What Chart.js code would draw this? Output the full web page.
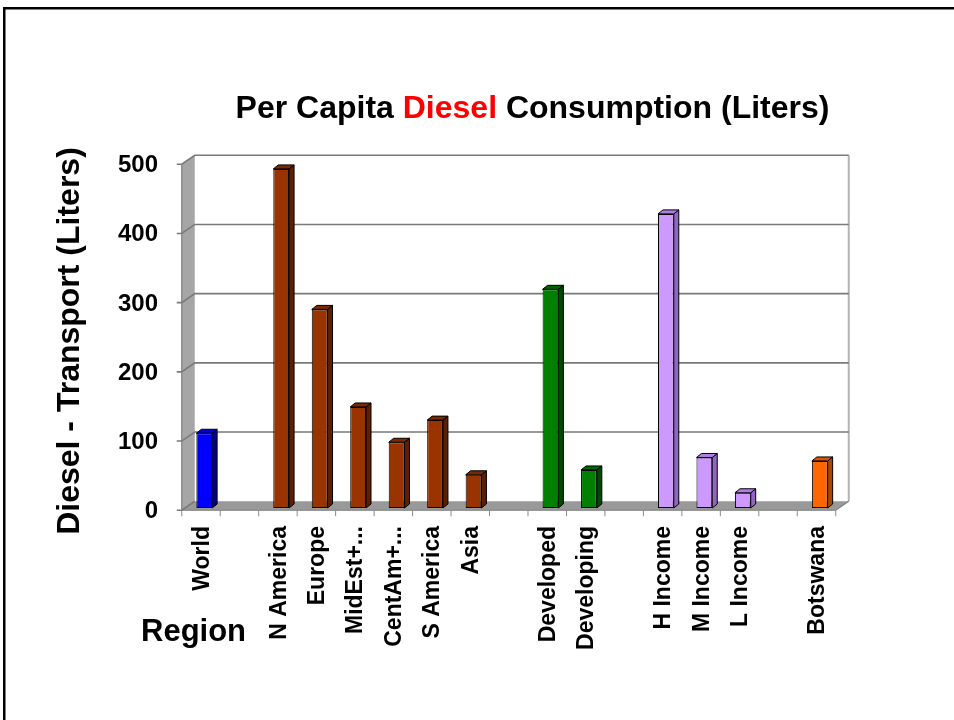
<!DOCTYPE html>
<html>
<head>
<meta charset="utf-8">
<script src="https://cdn.jsdelivr.net/npm/chart.js@4/dist/chart.umd.min.js"></script>
<style>
  html, body { margin: 0; padding: 0; background: #fff; }
  #wrap { width: 954px; height: 720px; position: relative; }
</style>
</head>
<body>
<div id="wrap"><canvas id="c" width="954" height="720"></canvas></div>
<script>
// Per capita diesel (transport) consumption by region, litres
const categories = ['World', '', 'N America', 'Europe', 'MidEst+...', 'CentAm+...', 'S America', 'Asia', '',
                    'Developed', 'Developing', '', 'H Income', 'M Income', 'L Income', '', 'Botswana'];
const dieselLiters = [108, null, 490, 287, 146, 95, 127, 48, null, 316, 55, null, 425, 73, 22, null, 68];
const regionGroup = ['world', '', 'region', 'region', 'region', 'region', 'region', 'region', '',
                     'dev', 'dev', '', 'income', 'income', 'income', '', 'country'];
const yTicks = [0, 100, 200, 300, 400, 500];

const titleParts = [['Per Capita ', '#000000'], ['Diesel', '#ff0000'], [' Consumption (Liters)', '#000000']];
const yTitle = 'Diesel - Transport (Liters)';
const xTitle = 'Region';

// face colours per group: front, side, top
const palette = {
  world:   { front: '#0000ff', side: '#00008c', top: '#0000c8' },
  region:  { front: '#993300', side: '#5e1f00', top: '#7a2900' },
  dev:     { front: '#008000', side: '#004a00', top: '#006400' },
  income:  { front: '#cc99ff', side: '#9066c0', top: '#b07ee6' },
  country: { front: '#ff6600', side: '#b04500', top: '#d85400' }
};

const FONT = '"Liberation Sans", Arial, Helvetica, sans-serif';
Chart.defaults.font.family = FONT;

// depth of the 3D box (full) and where the bars sit inside it
const DEPTH = { dx: 13, dy: -9 };
const BAR_AT = 0.25;
const BAR_DEPTH = { dx: 5, dy: -4 };

function depthPoint(x, y, t) {
  return [x + DEPTH.dx * (t - BAR_AT), y + DEPTH.dy * (t - BAR_AT)];
}

const box3d = {
  id: 'box3d',
  beforeDraw(chart) {
    const ctx = chart.ctx;
    ctx.save();
    // slide frame
    ctx.fillStyle = '#000';
    ctx.fillRect(3, 7, 960, 2.5);
    ctx.fillRect(3, 7, 2.5, 720);
    ctx.restore();
  },
  beforeDatasetsDraw(chart) {
    const ctx = chart.ctx;
    const xs = chart.scales.x, ys = chart.scales.y;
    const L = xs.left, R = xs.right;
    const y0 = ys.getPixelForValue(0), yTop = ys.getPixelForValue(500);
    ctx.save();

    const fl = depthPoint(L, y0, 0), fr = depthPoint(R, y0, 0);
    const bl = depthPoint(L, y0, 1), br = depthPoint(R, y0, 1);
    const ftl = depthPoint(L, yTop, 0), btl = depthPoint(L, yTop, 1), btr = depthPoint(R, yTop, 1);

    // left wall
    ctx.fillStyle = '#a6a6a6';
    ctx.beginPath();
    ctx.moveTo(fl[0], fl[1]); ctx.lineTo(ftl[0], ftl[1]); ctx.lineTo(btl[0], btl[1]); ctx.lineTo(bl[0], bl[1]);
    ctx.closePath(); ctx.fill();
    // floor
    ctx.fillStyle = '#999999';
    ctx.beginPath();
    ctx.moveTo(fl[0], fl[1]); ctx.lineTo(fr[0], fr[1]); ctx.lineTo(br[0], br[1]); ctx.lineTo(bl[0], bl[1]);
    ctx.closePath(); ctx.fill();

    // back wall right edge
    ctx.strokeStyle = '#b4b4b4';
    ctx.lineWidth = 2;
    ctx.beginPath(); ctx.moveTo(btr[0], btr[1]); ctx.lineTo(br[0], br[1]); ctx.stroke();

    // gridlines across back wall and left wall
    ctx.strokeStyle = '#7a7a7a';
    ctx.lineWidth = 1.6;
    yTicks.forEach(v => {
      const yp = ys.getPixelForValue(v);
      const a = depthPoint(L, yp, 0), b = depthPoint(L, yp, 1), c = depthPoint(R, yp, 1);
      ctx.beginPath();
      ctx.moveTo(a[0] - 5, a[1]); ctx.lineTo(a[0], a[1]); ctx.lineTo(b[0], b[1]);
      if (v > 0) ctx.lineTo(c[0], c[1]);
      ctx.stroke();
    });

    // outline of left wall and floor
    ctx.strokeStyle = '#808080';
    ctx.lineWidth = 1.2;
    ctx.beginPath();
    ctx.moveTo(ftl[0], ftl[1]); ctx.lineTo(fl[0], fl[1]); ctx.lineTo(fr[0], fr[1]); ctx.lineTo(br[0], br[1]);
    ctx.stroke();

    // category tick marks on the front edge
    const n = categories.length;
    const step = (R - L) / n;
    ctx.strokeStyle = '#8a8a8a';
    ctx.lineWidth = 1;
    for (let i = 0; i <= n; i++) {
      const p = depthPoint(L + i * step, y0, 0);
      ctx.beginPath(); ctx.moveTo(p[0], p[1]); ctx.lineTo(p[0], p[1] + 6); ctx.stroke();
    }
    ctx.restore();
  },
  afterDatasetsDraw(chart) {
    const ctx = chart.ctx;
    const meta = chart.getDatasetMeta(0);
    ctx.save();
    ctx.lineWidth = 1;
    ctx.strokeStyle = '#000';
    ctx.lineJoin = 'round';
    meta.data.forEach((bar, i) => {
      if (dieselLiters[i] == null) return;
      const p = palette[regionGroup[i]];
      const hw = bar.width / 2, x = bar.x, y = bar.y, base = bar.base;
      const { dx, dy } = BAR_DEPTH;
      // side face
      ctx.fillStyle = p.side;
      ctx.beginPath();
      ctx.moveTo(x + hw, y); ctx.lineTo(x + hw + dx, y + dy); ctx.lineTo(x + hw + dx, base + dy); ctx.lineTo(x + hw, base);
      ctx.closePath(); ctx.fill(); ctx.stroke();
      // top face
      ctx.fillStyle = p.top;
      ctx.beginPath();
      ctx.moveTo(x - hw, y); ctx.lineTo(x - hw + dx, y + dy); ctx.lineTo(x + hw + dx, y + dy); ctx.lineTo(x + hw, y);
      ctx.closePath(); ctx.fill(); ctx.stroke();
    });
    ctx.restore();
  },
  afterDraw(chart) {
    const ctx = chart.ctx;
    ctx.save();
    ctx.fillStyle = '#000';
    // title with highlighted word
    ctx.font = 'bold 32px ' + FONT;
    ctx.textBaseline = 'alphabetic';
    ctx.textAlign = 'left';
    const total = titleParts.reduce((s, t) => s + ctx.measureText(t[0]).width, 0);
    let tx = 532.5 - total / 2;
    titleParts.forEach(([txt, col]) => {
      ctx.fillStyle = col;
      ctx.fillText(txt, tx, 118);
      tx += ctx.measureText(txt).width;
    });
    // y axis title
    ctx.fillStyle = '#000';
    ctx.font = 'bold 32px ' + FONT;
    ctx.translate(70, 341);
    ctx.rotate(-Math.PI / 2);
    ctx.textAlign = 'center';
    ctx.textBaseline = 'middle';
    ctx.fillText(yTitle, 0, 0);
    ctx.setTransform(1, 0, 0, 1, 0, 0);
    // x axis title
    ctx.font = 'bold 31px ' + FONT;
    ctx.textAlign = 'left';
    ctx.textBaseline = 'alphabetic';
    ctx.fillText(xTitle, 141, 641);
    ctx.restore();
  }
};

new Chart(document.getElementById('c'), {
  type: 'bar',
  data: {
    labels: categories,
    datasets: [{
      data: dieselLiters,
      backgroundColor: regionGroup.map(g => g ? palette[g].front : 'transparent'),
      borderColor: '#000',
      borderWidth: 1,
      borderSkipped: false,
      categoryPercentage: 1,
      barPercentage: 0.41
    }]
  },
  options: {
    responsive: false,
    animation: false,
    devicePixelRatio: 1,
    layout: { padding: { top: 162, right: 115, left: 0, bottom: 0 } },
    plugins: { legend: { display: false }, title: { display: false }, tooltip: { enabled: false } },
    scales: {
      x: {
        grid: { display: false, drawTicks: false },
        border: { display: false },
        ticks: {
          autoSkip: false, maxRotation: 90, minRotation: 90,
          color: '#000', font: { size: 23, weight: 'bold' }, padding: 18, labelOffset: -2
        },
        afterFit(s) { s.height = 212; }
      },
      y: {
        min: 0, max: 500,
        grid: { display: false, drawTicks: false },
        border: { display: false },
        ticks: {
          stepSize: 100, color: '#000', font: { size: 24, weight: 'bold' }, padding: 27, labelOffset: 3.5
        },
        afterFit(s) { s.width = 185; }
      }
    }
  },
  plugins: [box3d]
});
</script>
</body>
</html>
